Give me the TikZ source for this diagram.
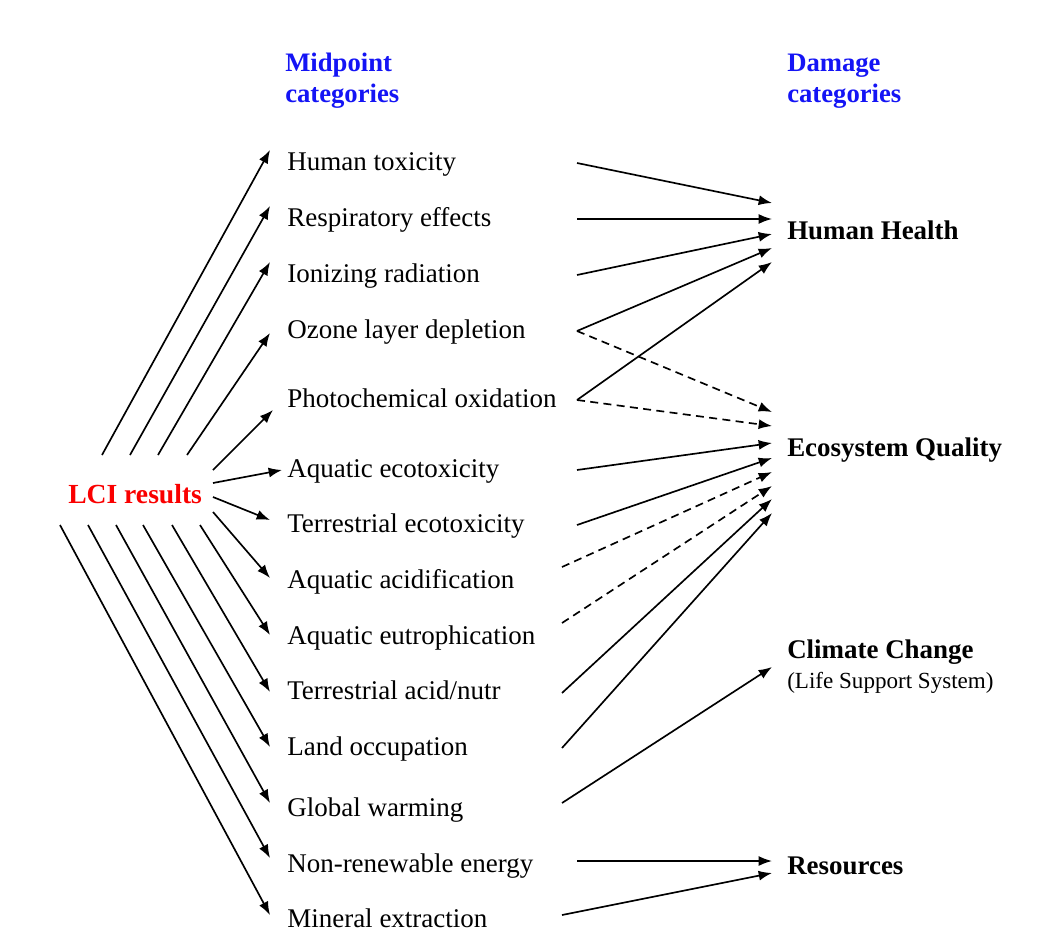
\documentclass[tikz,border=0pt]{standalone}
\usepackage{fontspec}
\setmainfont{Liberation Serif}
\usetikzlibrary{arrows.meta,calc}
\definecolor{hblue}{RGB}{20,20,245}
\definecolor{lcired}{RGB}{250,0,0}
\begin{document}
\begin{tikzpicture}[x=0.75pt,y=-0.75pt,
 lab/.style={anchor=base west,inner sep=0pt,font=\fontsize{20.25}{24}\selectfont},
 dmg/.style={anchor=base west,inner sep=0pt,font=\fontsize{20.2}{24}\selectfont\bfseries},
 sub/.style={anchor=base west,inner sep=0pt,font=\fontsize{17.3}{20}\selectfont},
 hdr/.style={anchor=base west,inner sep=0pt,align=left,text=hblue,font=\fontsize{20}{23.5}\selectfont\bfseries},
 lcistyle/.style={anchor=base west,inner sep=0pt,text=lcired,font=\fontsize{20.7}{24}\selectfont\bfseries},
 arr/.style={-{Latex[length=10pt,width=7.5pt]},line width=1.25pt},
 darr/.style={arr,dash pattern=on 6pt off 4pt}]
\fill[white] (0,0) rectangle (1064,931);
\useasboundingbox (0,0) rectangle (1064,931);

% headers
\node[hdr] (hmid) at (285,103) {Midpoint\\categories};
\node[hdr] (hdam) at (787,103) {Damage\\categories};

% LCI
\node[lcistyle] (lci) at (68,503) {LCI results};

% midpoint categories
\node[lab] (ht)  at (287,170) {Human toxicity};
\node[lab] (re)  at (287,226) {Respiratory effects};
\node[lab] (ir)  at (287,282) {Ionizing radiation};
\node[lab] (oz)  at (287,338) {Ozone layer depletion};
\node[lab] (po)  at (287,407) {Photochemical oxidation};
\node[lab] (ae)  at (287,477) {Aquatic ecotoxicity};
\node[lab] (te)  at (287,532) {Terrestrial ecotoxicity};
\node[lab] (aa)  at (287,588) {Aquatic acidification};
\node[lab] (aeu) at (287,644) {Aquatic eutrophication};
\node[lab] (tan) at (287,699) {Terrestrial acid/nutr};
\node[lab] (lo)  at (287,755) {Land occupation};
\node[lab] (gw)  at (287,816) {Global warming};
\node[lab] (nre) at (287,872) {Non-renewable energy};
\node[lab] (me)  at (287,927) {Mineral extraction};

% damage categories
\node[dmg] (hh)  at (787,239) {Human Health};
\node[dmg] (eq)  at (787,456) {Ecosystem Quality};
\node[dmg] (cc)  at (787,658) {Climate Change};
\node[sub] (lss) at (787,688) {(Life Support System)};
\node[dmg] (res) at (787,874) {Resources};

% LCI -> midpoint
\draw[arr] ($(lci.base west)+(34,-48)$)  -- ($(ht.base west)+(-17,-20)$);
\draw[arr] ($(lci.base west)+(62,-48)$)  -- ($(re.base west)+(-17,-20)$);
\draw[arr] ($(lci.base west)+(90,-48)$)  -- ($(ir.base west)+(-17,-20)$);
\draw[arr] ($(lci.base west)+(119,-48)$) -- ($(oz.base west)+(-17,-5)$);
\draw[arr] ($(lci.base west)+(145,-33)$) -- ($(po.base west)+(-14,3)$);
\draw[arr] ($(lci.base west)+(145,-20)$) -- ($(ae.base west)+(-5,-7)$);
\draw[arr] ($(lci.base west)+(145,-6)$)  -- ($(te.base west)+(-17,-12)$);
\draw[arr] ($(lci.base west)+(145,9)$)   -- ($(aa.base west)+(-17,-10)$);
\draw[arr] ($(lci.base west)+(132,22)$)  -- ($(aeu.base west)+(-17,-9)$);
\draw[arr] ($(lci.base west)+(104,22)$)  -- ($(tan.base west)+(-17,-7)$);
\draw[arr] ($(lci.base west)+(75,22)$)   -- ($(lo.base west)+(-17,-8)$);
\draw[arr] ($(lci.base west)+(48,22)$)   -- ($(gw.base west)+(-17,-13)$);
\draw[arr] ($(lci.base west)+(20,22)$)   -- ($(nre.base west)+(-17,-14)$);
\draw[arr] ($(lci.base west)+(-8,22)$)   -- ($(me.base west)+(-17,-12)$);

% midpoint -> damage
\draw[arr]  ($(ht.base west)+(290,-7)$)  -- ($(hh.base west)+(-15,-36)$);
\draw[arr]  ($(re.base west)+(290,-7)$)  -- ($(hh.base west)+(-15,-20)$);
\draw[arr]  ($(ir.base west)+(290,-7)$)  -- ($(hh.base west)+(-15,-5)$);
\draw[arr]  ($(oz.base west)+(290,-7)$)  -- ($(hh.base west)+(-15,9)$);
\draw[arr]  ($(po.base west)+(290,-7)$)  -- ($(hh.base west)+(-15,23)$);
\draw[darr] ($(oz.base west)+(290,-7)$)  -- ($(eq.base west)+(-15,-44)$);
\draw[darr] ($(po.base west)+(290,-7)$)  -- ($(eq.base west)+(-15,-30)$);
\draw[arr]  ($(ae.base west)+(290,-7)$)  -- ($(eq.base west)+(-15,-13)$);
\draw[arr]  ($(te.base west)+(290,-7)$)  -- ($(eq.base west)+(-15,2)$);
\draw[darr] ($(aa.base west)+(275,-21)$) -- ($(eq.base west)+(-15,16)$);
\draw[darr] ($(aeu.base west)+(275,-21)$) -- ($(eq.base west)+(-15,30)$);
\draw[arr]  ($(tan.base west)+(275,-6)$) -- ($(eq.base west)+(-15,43)$);
\draw[arr]  ($(lo.base west)+(275,-7)$)  -- ($(eq.base west)+(-15,57)$);
\draw[arr]  ($(gw.base west)+(275,-13)$) -- ($(cc.base west)+(-15,9)$);
\draw[arr]  ($(nre.base west)+(290,-11)$) -- ($(res.base west)+(-15,-13)$);
\draw[arr]  ($(me.base west)+(275,-12)$) -- ($(res.base west)+(-15,-1)$);
\end{tikzpicture}
\end{document}
